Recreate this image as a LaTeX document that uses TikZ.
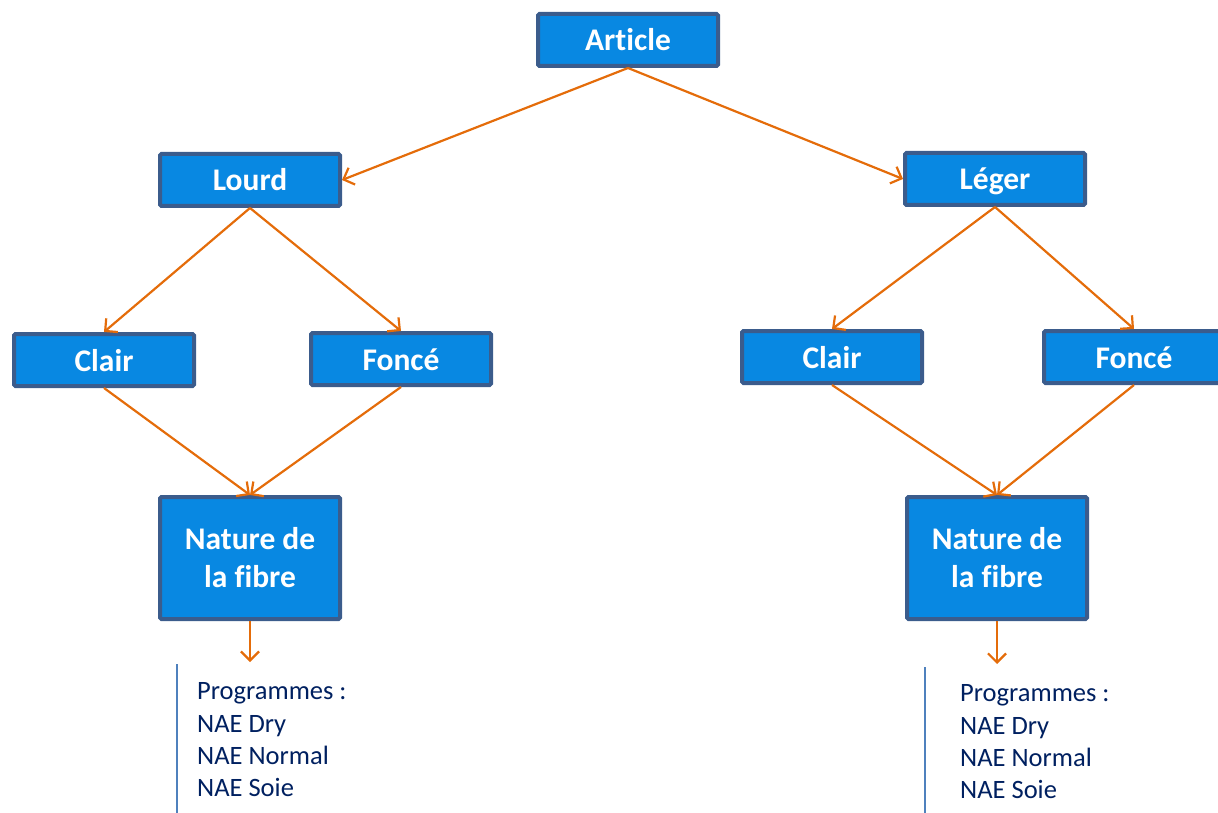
\documentclass[tikz,border=0pt]{standalone}
\usepackage{fontspec}
\setmainfont{Carlito}[Ligatures=NoCommon]
\usetikzlibrary{arrows.meta}
\definecolor{boxfill}{RGB}{8,136,226}
\definecolor{boxborder}{RGB}{59,92,140}
\definecolor{arrorange}{RGB}{228,108,10}
\definecolor{navytext}{RGB}{0,32,96}
\definecolor{barblue}{RGB}{79,129,189}
\tikzset{
  catbox/.style={draw=boxborder, line width=4pt, fill=boxfill, rounded corners=1.5pt,
    minimum width=180pt, minimum height=52pt, inner sep=0pt,
    text=white, font=\fontsize{31.5}{38}\selectfont\bfseries, align=center,
    text height=25pt, text depth=3pt},
  bigbox/.style={catbox, minimum height=122pt, text height=, text depth=},
  link/.style={draw=arrorange, line width=2.2pt, -{Straight Barb[length=9pt,width=18pt,line width=2.2pt]}},
  prog/.style={anchor=north west, inner sep=0pt, text=navytext, align=left,
    font=\fontsize{26.5}{32.3}\selectfont},
  bar/.style={draw=barblue, line width=2pt}
}
\begin{document}
\begin{tikzpicture}[x=1pt,y=-1pt]
\useasboundingbox (0,0) rectangle (1218,813);
\begin{scope}
\clip (0,0) rectangle (1218,813);
\node[catbox] (article) at (628,40) {Article};
\node[catbox] (lourd) at (250,180) {Lourd};
\node[catbox] (leger) at (995,179) {Léger};
\node[catbox] (clairL) at (104,360) {Clair};
\node[catbox] (fonceL) at (401,359) {Foncé};
\node[catbox] (clairR) at (832,357) {Clair};
\node[catbox] (fonceR) at (1134,357) {Foncé};
\node[bigbox] (natL) at (250,558) {Nature de\\la fibre};
\node[bigbox] (natR) at (997,558) {Nature de\\la fibre};

\draw[link] (article.south) -- (lourd.east);
\draw[link] (article.south) -- (leger.west);
\draw[link] (lourd.south) -- (clairL.north);
\draw[link] (lourd.south) -- (fonceL.north);
\draw[link] (leger.south) -- (clairR.north);
\draw[link] (leger.south) -- (fonceR.north);
\draw[link] (clairL.south) -- (natL.north);
\draw[link] (fonceL.south) -- (natL.north);
\draw[link] (clairR.south) -- (natR.north);
\draw[link] (fonceR.south) -- (natR.north);

\coordinate (endL) at (250,662);
\coordinate (endR) at (997,664);
\draw[link] (natL.south) -- (endL);
\draw[link] (natR.south) -- (endR);

\coordinate (barLtop) at (177,664);
\coordinate (barLbot) at (177,813);
\coordinate (barRtop) at (925,667);
\coordinate (barRbot) at (925,813);
\draw[bar] (barLtop) -- (barLbot);
\draw[bar] (barRtop) -- (barRbot);

\node[prog] (progL) at (197,682.5) {Programmes :\\NAE Dry\\NAE Normal\\NAE Soie};
\node[prog] (progR) at (960,684.5) {Programmes :\\NAE Dry\\NAE Normal\\NAE Soie};
\end{scope}
\end{tikzpicture}
\end{document}
